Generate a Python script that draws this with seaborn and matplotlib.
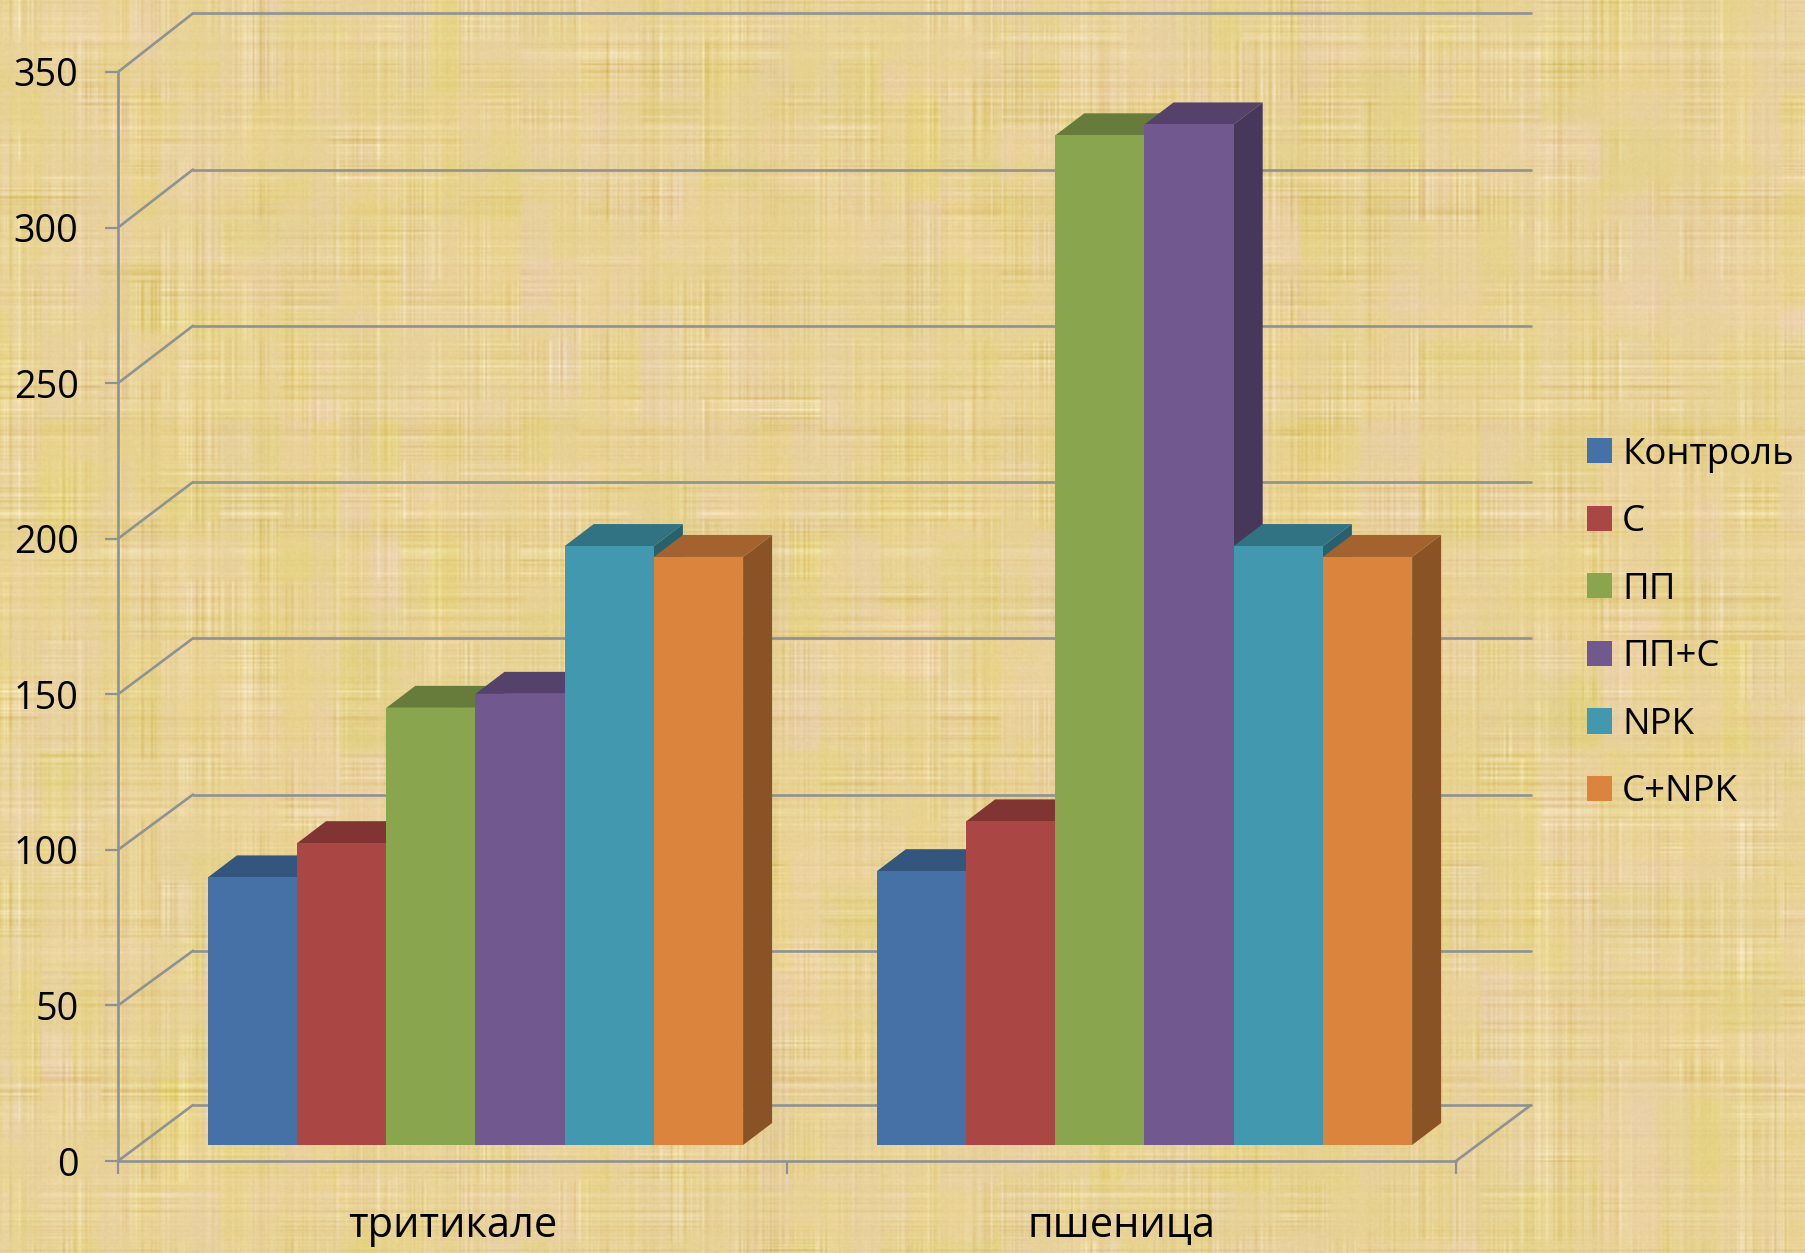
import numpy as np
import pandas as pd
import matplotlib
matplotlib.use("Agg")
import matplotlib.pyplot as plt
from matplotlib.patches import Polygon
import seaborn as sns

crops = ["тритикале", "пшеница"]
treatments = ["Контроль", "С", "ПП", "ПП+С", "NPK", "С+NPK"]
triticale = [86, 97, 140.5, 145, 192.5, 189]
wheat = [88, 104, 324.5, 328, 192.5, 189]
colors = ["#4571A7", "#AA4643", "#89A54E", "#71588F", "#4198AF", "#DB843D"]
y_ticks = [0, 50, 100, 150, 200, 250, 300, 350]

W, H = 1806, 1253
sns.set_theme(style="white")
plt.rcParams["font.family"] = ["Open Sans", "DejaVu Sans"]
plt.rcParams["text.color"] = "black"
LEGEND_FONT = 26.4
YTICK_FONT = 27.2
XTICK_FONT = 30
GRID = "#8E9295"


def box(a, k, axis):
    kernel = np.ones(k) / k
    return np.apply_along_axis(lambda v: np.convolve(v, kernel, mode="same"), axis, a)


def parchment(h, w):
    """Woven parchment texture: soft blotches, streaks and a fine thread grid."""
    rng = np.random.default_rng(11)
    pad = 40

    def blocks(cell_y, cell_x, soft=9):
        g = rng.normal(size=((h + pad) // cell_y + 2, (w + pad) // cell_x + 2))
        g = np.repeat(np.repeat(g, cell_y, axis=0), cell_x, axis=1)[:h + pad, :w + pad]
        return box(box(g, soft, 0), soft, 1)

    pink = blocks(70, 60) * 0.6 + blocks(30, 90) * 0.4
    yellow = blocks(110, 30, 5) * 0.7 + blocks(40, 22, 5) * 0.4
    patch = np.clip(blocks(50, 50, 15) * 0.35 + 1.0, 0.4, 1.6)

    warp = np.outer(np.ones(h + pad), box(rng.normal(size=(1, w + pad)), 2, 1)[0])
    weft = np.outer(box(rng.normal(size=(1, h + pad)), 2, 1)[0], np.ones(w + pad))
    warp = np.clip(warp, -2, 2) * np.clip(blocks(60, 16, 7) * 0.5 + 0.9, 0.3, 1.5)
    weft = np.clip(weft, -2, 2) * np.clip(blocks(16, 60, 7) * 0.5 + 0.9, 0.3, 1.5)
    fine = (warp + weft) * patch
    speck = box(box(rng.normal(size=(h + pad, w + pad)), 2, 0), 2, 1)

    img = np.zeros((h + pad, w + pad, 3))
    img[..., 0] = 232 + pink * 2.0 + fine * 3.4 + speck * 2.0
    img[..., 1] = 210 + pink * 0.3 + fine * 5.0 + speck * 3.0 + yellow * 0.6
    img[..., 2] = 150 + pink * 6.0 + fine * 8.5 + speck * 4.5 - yellow * 6.0
    img = box(box(img, 2, 0), 2, 1)
    return np.clip(img[pad // 2:pad // 2 + h, pad // 2:pad // 2 + w], 0, 255).astype(np.uint8)


fig = plt.figure(figsize=(W / 100, H / 100), dpi=100)
fig.figimage(parchment(H, W), 0, 0, zorder=-5, origin="upper")

# axes frame in pixels: front edge of the floor and the value axis
left, right, y_top, y_zero = 118, 1456, 72, 1161
ax = fig.add_axes([left / W, 1 - y_zero / H, (right - left) / W, (y_zero - y_top) / H])
ax.patch.set_alpha(0)

df = pd.DataFrame({
    "crop": np.repeat(crops, len(treatments)),
    "treatment": treatments * len(crops),
    "value": triticale + wheat,
})
sns.barplot(data=df, x="crop", y="value", hue="treatment", hue_order=treatments,
            palette=colors, saturation=1, width=0.8, gap=0, linewidth=0, ax=ax)
ax.set_xlim(-0.5, 1.5)
ax.set_ylim(0, 350)
ax.set_xlabel("")
ax.set_ylabel("")

px_x = 2.0 / (right - left)
px_y = 350.0 / (y_zero - y_top)
wall_dx = 75 * px_x
bar_ox, bar_oy = 23 * px_x, 16 * px_y
bar_dx, bar_dy = 29 * px_x, 22 * px_y


def wall_rise(v):
    """Height of the back wall line above its front tick; it grows slightly with value."""
    return (56 if v == 0 else 54 + 4.7 * v / 350) * px_y


def shade(color, factor):
    r, g, b = matplotlib.colors.to_rgb(color)
    return (r * factor, g * factor, b * factor)


# back wall and side wall gridlines, plus the floor outline
line_kw = dict(color=GRID, lw=1.9, clip_on=False, zorder=1, solid_capstyle="round")
for v in y_ticks:
    back = v + wall_rise(v)
    ax.plot([-0.5, -0.5 + wall_dx], [v, back], **line_kw)
    ax.plot([-0.5 + wall_dx, 1.5 + wall_dx], [back, back], **line_kw)
ax.plot([1.5, 1.5 + wall_dx], [0, wall_rise(0)], **line_kw)

# extrude every bar: side and top first, the front face over them, left to right
bars = sorted((b for c in ax.containers for b in c), key=lambda b: b.get_x())
for i, bar in enumerate(bars):
    x0 = bar.get_x() + bar_ox
    x1 = x0 + bar.get_width()
    h = bar.get_height()
    base = bar_oy
    top_y = base + h
    fc = bar.get_facecolor()
    z = 3 + i * 0.1
    ax.add_patch(Polygon([(x1, base), (x1 + bar_dx, base + bar_dy),
                          (x1 + bar_dx, top_y + bar_dy), (x1, top_y)],
                         closed=True, fc=shade(fc, 0.63), ec="none", clip_on=False, zorder=z))
    ax.add_patch(Polygon([(x0, top_y), (x1, top_y),
                          (x1 + bar_dx, top_y + bar_dy), (x0 + bar_dx, top_y + bar_dy)],
                         closed=True, fc=shade(fc, 0.75), ec="none", clip_on=False, zorder=z))
    bar.set_x(x0)
    bar.set_y(base)
    bar.set_clip_on(False)
    bar.set_zorder(z + 0.05)

# axes, ticks and labels
sns.despine(ax=ax, top=True, right=True)
for side in ("left", "bottom"):
    ax.spines[side].set_color(GRID)
    ax.spines[side].set_linewidth(1.9)
ax.set_yticks(y_ticks)
ax.tick_params(axis="y", which="major", length=9.4, width=1.6, color=GRID,
               labelsize=YTICK_FONT, labelcolor="black", pad=19, left=True)
ax.set_xticks([0, 1], crops)
ax.set_xticks([-0.5, 0.5, 1.5], minor=True)
ax.tick_params(axis="x", which="major", length=0, labelsize=XTICK_FONT, labelcolor="black", pad=31.5)
ax.tick_params(axis="x", which="minor", length=9.4, width=1.6, color=GRID, bottom=True)

sns.move_legend(ax, loc="center left", bbox_to_anchor=(1587 / W, 1 - 623.5 / H),
                bbox_transform=fig.transFigure, frameon=False, title=None,
                fontsize=LEGEND_FONT, labelcolor="black", borderpad=0, borderaxespad=0,
                labelspacing=0.86, handlelength=0.68, handleheight=0.68, handletextpad=0.28)

fig.savefig("out.png", dpi=100)
